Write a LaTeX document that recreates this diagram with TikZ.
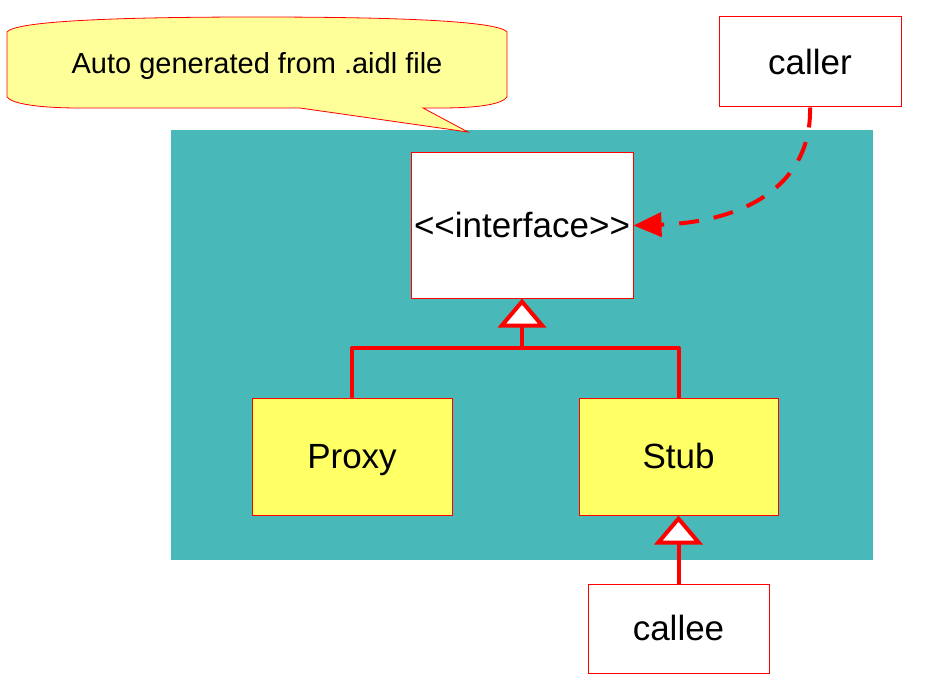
\documentclass[tikz,border=0pt]{standalone}
\usepackage{fontspec}
\setmainfont{Liberation Sans}
\usetikzlibrary{arrows.meta}
\definecolor{teal1}{HTML}{48B8B8}
\definecolor{note}{HTML}{FFFF99}
\definecolor{boxy}{HTML}{FFFF66}
\tikzset{
  box/.style={draw=red, line width=1pt, inner sep=0pt, text height=24.5pt, text depth=0pt, font=\fontsize{35}{40}\selectfont},
  rel/.style={draw=red, line width=4pt, line join=round},
  inh/.style={rel, -{Triangle[open, fill=white, length=29pt, width=48pt, line width=4pt]}},
}
\begin{document}
\begin{tikzpicture}[x=1pt, y=-1pt]
\useasboundingbox (0,0) rectangle (938,690);
\fill[white] (0,0) rectangle (938,690);
% teal panel
\fill[teal1] (171,130) rectangle (873,560);
% callout
\draw[red, line width=0.8pt, fill=note]
  (7,32) .. controls (15,22) and (100,17) .. (257,17)
  .. controls (414,17) and (499,22) .. (507,32)
  -- (507,97)
  .. controls (502,104) and (480,108) .. (440,108)
  -- (423,108) -- (468,132) -- (300,108) -- (80,108)
  .. controls (40,108) and (12,104) .. (7,97) -- cycle;
\node[font=\fontsize{29}{34}\selectfont, text height=20.5pt, text depth=0pt, inner sep=0pt] (note) at (257,63) {Auto generated from .aidl file};
% boxes
\node[box, fill=white, minimum width=222pt, minimum height=145pt] (iface) at (522,225.5) {{<}{<}interface{>}{>}};
\node[box, fill=white, minimum width=182pt, minimum height=90pt] (caller) at (810,62) {caller};
\node[box, fill=boxy, minimum width=200pt, minimum height=117pt] (proxy) at (352,456.5) {Proxy};
\node[box, fill=boxy, minimum width=199pt, minimum height=117pt] (stub) at (678.5,456.5) {Stub};
\node[box, fill=white, minimum width=181pt, minimum height=89pt] (callee) at (678.5,628.5) {callee};
% inheritance
\coordinate (join) at (522,348);
\draw[rel] (proxy.north) |- (join) -| (stub.north);
\draw[inh] (join) -- (iface.south);
\draw[inh] (callee.north) -- (stub.south);
% dependency
\draw[red, line width=4pt, dash pattern=on 20pt off 15pt, -{Triangle[length=28pt, width=24pt]}]
  (caller.south) .. controls (812,185) and (745,222) .. (iface.east);
\end{tikzpicture}
\end{document}
